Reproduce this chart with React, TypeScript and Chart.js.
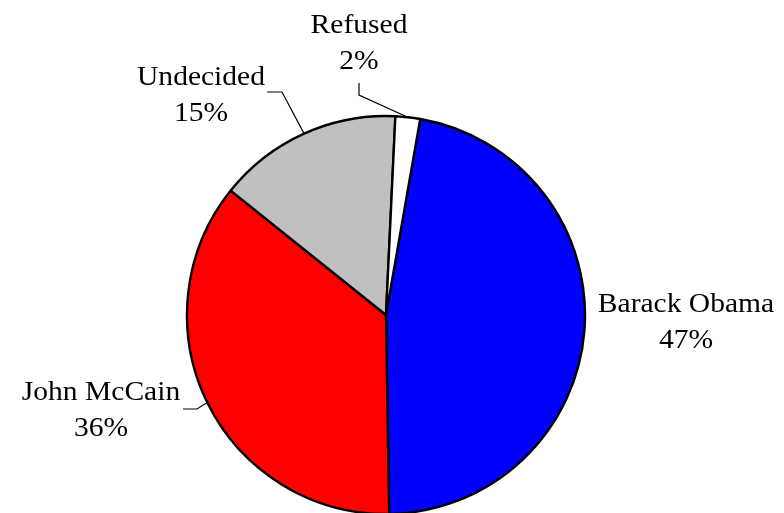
import React, { useEffect, useRef } from "react";
import { Chart, registerables } from "chart.js";

Chart.register(...registerables);

const categories = ["Barack Obama", "John McCain", "Undecided", "Refused"];
const values = [47, 36, 15, 2];
const valueLabels = ["47%", "36%", "15%", "2%"];
const colors = ["#0000FF", "#FF0000", "#C0C0C0", "#FFFFFF"];

const FONT = '28px "Liberation Serif", "Times New Roman", serif';
const TEXT_STRETCH = 1.055;

// label layout relative to pie centre (px): centre x, first baseline, optional leader elbow
const labelLayout = [
  { dx: 300, dy: -3, leader: null },
  { dx: -285, dy: 85, leader: [[-203, 94], [-189, 94]] },
  { dx: -185, dy: -230, leader: [[-119, -223], [-104, -223]] },
  { dx: -27, dy: -282, leader: [[-27, -232], [-27, -220]] },
];

const labelPlugin = {
  id: "outsideLabels",
  afterDatasetsDraw(chart: any) {
    const ctx = chart.ctx;
    const meta = chart.getDatasetMeta(0);
    ctx.save();
    meta.data.forEach((arc: any, i: number) => {
      const p = arc.getProps(["x", "y", "startAngle", "endAngle", "outerRadius"], true);
      const cx = p.x, cy = p.y;
      const mid = (p.startAngle + p.endAngle) / 2;
      const ex = cx + Math.cos(mid) * p.outerRadius;
      const ey = cy + Math.sin(mid) * p.outerRadius;
      const lay = labelLayout[i];
      if (lay.leader) {
        ctx.beginPath();
        ctx.strokeStyle = "#000";
        ctx.lineWidth = 1.2;
        ctx.moveTo(cx + lay.leader[0][0], cy + lay.leader[0][1]);
        ctx.lineTo(cx + lay.leader[1][0], cy + lay.leader[1][1]);
        ctx.lineTo(ex, ey);
        ctx.stroke();
      }
      ctx.fillStyle = "#000";
      ctx.font = FONT;
      ctx.textAlign = "center";
      ctx.textBaseline = "alphabetic";
      const tx = cx + lay.dx;
      ctx.save();
      ctx.translate(tx, 0);
      ctx.scale(TEXT_STRETCH, 1);
      ctx.fillText(categories[i], 0, cy + lay.dy);
      ctx.fillText(valueLabels[i], 0, cy + lay.dy + 36);
      ctx.restore();
    });
    ctx.restore();
  },
};

export default function App() {
  const ref = useRef<HTMLCanvasElement | null>(null);
  useEffect(() => {
    if (!ref.current) return;
    const chart = new Chart(ref.current, {
      type: "pie",
      data: {
        labels: categories,
        datasets: [
          {
            data: values,
            backgroundColor: colors,
            borderColor: "#000000",
            borderWidth: 2.4,
            radius: 199,
            rotation: 9.9,
            clip: false,
          } as any,
        ],
      },
      options: {
        responsive: false,
        animation: false,
        events: [],
        layout: { padding: { left: 0, right: 12, top: 117, bottom: 0 } },
        plugins: { legend: { display: false }, tooltip: { enabled: false } },
      } as any,
      plugins: [labelPlugin],
    });
    return () => chart.destroy();
  }, []);
  return (
    <div style={{ position: "fixed", left: 0, top: 0, width: 784, height: 513, overflow: "hidden", background: "#fff" }}>
      <canvas ref={ref} width={784} height={513} style={{ display: "block" }} />
    </div>
  );
}
